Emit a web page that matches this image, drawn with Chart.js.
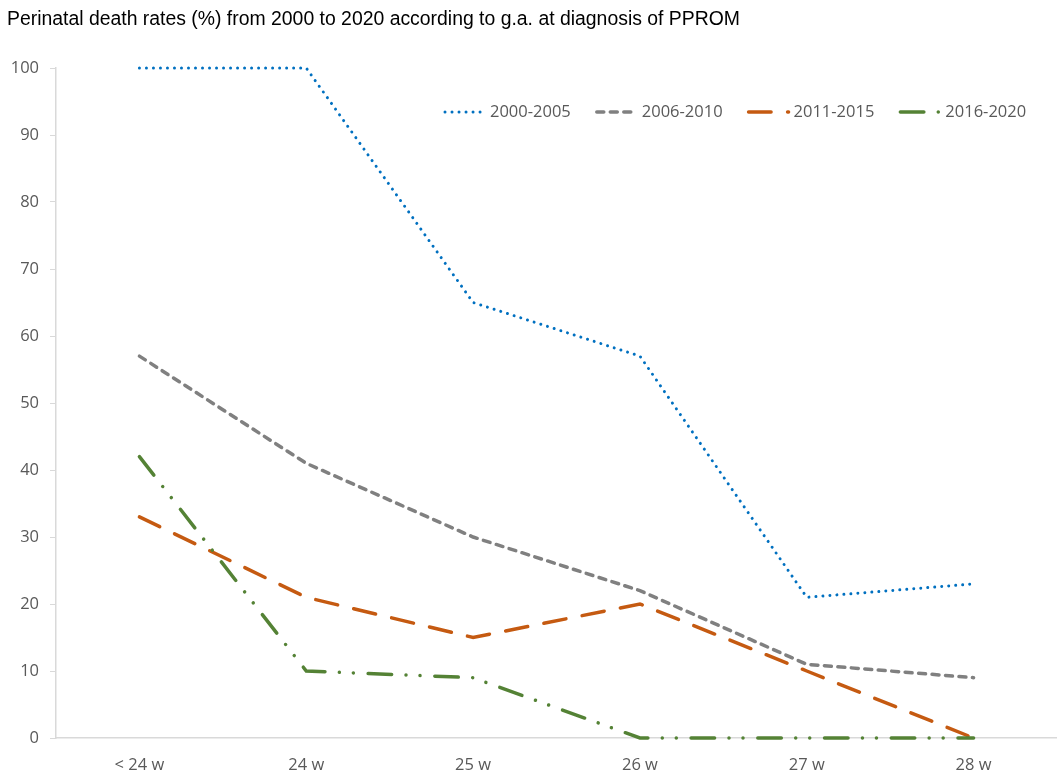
<!DOCTYPE html>
<html>
<head>
<meta charset="utf-8">
<script src="https://cdn.jsdelivr.net/npm/chart.js@4.4.1/dist/chart.umd.min.js"></script>
<style>
  html, body { margin: 0; padding: 0; background: #fff; }
  #wrap { width: 1057px; height: 776px; position: relative; }
</style>
</head>
<body>
<div id="wrap"><canvas id="pprom"></canvas></div>
<script>
const title = "Perinatal death rates (%) from 2000 to 2020 according to g.a. at diagnosis of PPROM";
const categories = ["< 24 w", "24 w", "25 w", "26 w", "27 w", "28 w"];
const seriesNames = ["2000-2005", "2006-2010", "2011-2015", "2016-2020"];
const p2000 = [100, 100, 65, 57, 21, 23];
const p2006 = [57, 41, 30, 22, 11, 9];
const p2011 = [33, 21, 15, 20, 10, 0];
const p2016 = [42, 10, 9, 0, 0, 0];
const yTicks = [0, 10, 20, 30, 40, 50, 60, 70, 80, 90, 100];

const tickFont = { family: "'Open Sans', sans-serif", size: 16.5 };
const tickColor = "#595959";
const axisColor = "#d9d9d9";

// title + legend drawn inside the plot like the original
const overlay = {
  id: "overlay",
  afterDraw(chart) {
    const ctx = chart.ctx;
    ctx.save();
    ctx.fillStyle = "#000";
    ctx.font = "19.4px 'Liberation Sans', Arial, sans-serif";
    ctx.textBaseline = "middle";
    ctx.textAlign = "left";
    ctx.fillText(title, 7, 20);

    let x = 445;
    const y = 112;
    ctx.font = "16.5px 'Open Sans', sans-serif";
    chart.data.datasets.forEach(ds => {
      ctx.save();
      ctx.strokeStyle = ds.borderColor;
      ctx.lineWidth = ds.borderWidth;
      ctx.lineCap = ds.borderCapStyle;
      ctx.setLineDash(ds.borderDash);
      ctx.beginPath();
      ctx.moveTo(x, y);
      ctx.lineTo(x + 40, y);
      ctx.stroke();
      ctx.restore();
      ctx.fillStyle = tickColor;
      ctx.fillText(ds.label, x + 45, y);
      x += 45 + ctx.measureText(ds.label).width + 26;
    });
    ctx.restore();
  }
};

const base = { fill: false, tension: 0, pointRadius: 0, pointHoverRadius: 0,
  borderWidth: 3.5, borderCapStyle: "round", clip: false };

new Chart(document.getElementById("pprom"), {
  type: "line",
  data: {
    labels: categories,
    datasets: [
      { ...base, label: seriesNames[0], data: p2000, borderColor: "#0070c0",
        borderWidth: 3, borderDash: [0.01, 7], order: 4 },
      { ...base, label: seriesNames[1], data: p2006, borderColor: "#808080",
        borderDash: [7, 6.5], order: 3 },
      { ...base, label: seriesNames[2], data: p2011, borderColor: "#c55a11",
        borderDash: [22.5, 16.5], order: 2 },
      { ...base, label: seriesNames[3], data: p2016, borderColor: "#548235",
        borderDash: [23.5, 14.4, 0.01, 14, 0.01, 14.8], order: 1 }
    ]
  },
  options: {
    responsive: true,
    maintainAspectRatio: false,
    animation: false,
    layout: { padding: { top: 68, right: 0, left: 0, bottom: 0 } },
    plugins: {
      legend: { display: false },
      title: { display: false },
      tooltip: { enabled: false }
    },
    scales: {
      x: {
        offset: true,
        grid: { display: false, drawTicks: false },
        border: { display: true, color: axisColor, width: 1.5 },
        ticks: { color: tickColor, font: tickFont, padding: 17, maxRotation: 0 },
        afterFit: s => { s.height = 38; }
      },
      y: {
        min: 0,
        max: 100,
        afterBuildTicks: s => { s.ticks = yTicks.map(v => ({ value: v })); },
        grid: { display: true, drawOnChartArea: false, drawTicks: true, tickLength: 6, color: axisColor },
        border: { display: true, color: axisColor, width: 1.5 },
        ticks: { color: tickColor, font: tickFont, padding: 11 },
        afterFit: s => { s.width = 56; }
      }
    }
  },
  plugins: [overlay]
});
</script>
</body>
</html>
